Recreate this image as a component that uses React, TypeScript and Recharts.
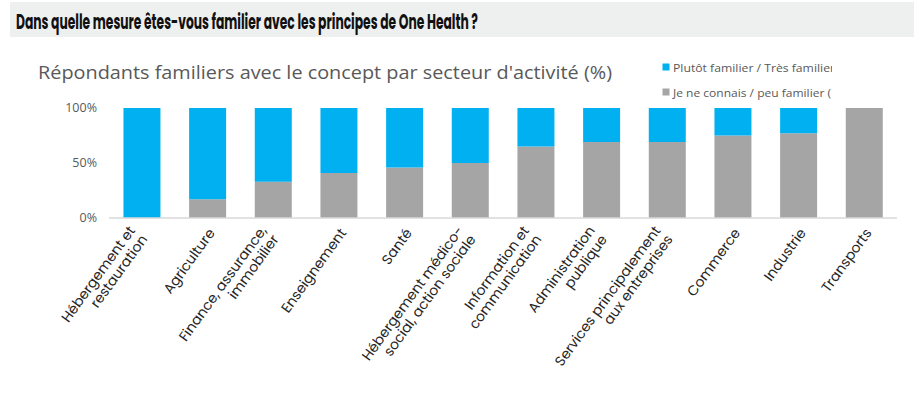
import React from 'react'
import { BarChart, Bar, XAxis, YAxis } from 'recharts'

const categories = [
  'Hébergement et\nrestauration',
  'Agriculture',
  'Finance, assurance,\nimmobilier',
  'Enseignement',
  'Santé',
  'Hébergement médico-\nsocial, action sociale',
  'Information et\ncommunication',
  'Administration\npublique',
  'Services principalement\naux entreprises',
  'Commerce',
  'Industrie',
  'Transports',
]
// % "Je ne connais / peu familier"
const peuFamilier = [0, 17, 33, 41, 46, 50, 65, 69, 69, 75, 77, 100]
// % "Plutôt familier / Très familier"
const familier = [100, 83, 67, 59, 54, 50, 35, 31, 31, 25, 23, 0]
const yTicks = [0, 50, 100]

const title = 'Dans quelle mesure êtes-vous familier avec les principes de One Health ?'
const subtitle = "Répondants familiers avec le concept par secteur d'activité (%)"
const legendLabels = ['Plutôt familier / Très familier', 'Je ne connais / peu familier (']

const BLUE = '#00b0f0'
const GREY = '#a5a5a5'

const data = categories.map((c, i) => ({
  secteur: c,
  peu: peuFamilier[i],
  familier: familier[i],
}))

function SecteurTick(props: any) {
  const { x, y, payload } = props
  const lines: string[] = String(payload.value).split('\n')
  const n = lines.length
  const px = x + (n === 1 ? 4 : -4)
  const py = y + (n === 1 ? 12 : 14)
  const lh = 15
  return (
    <g transform={`translate(${px},${py}) rotate(-54)`}>
      {lines.map((l, i) => (
        <text
          key={i}
          x={0}
          y={(i - (n - 1) / 2) * lh + 5}
          textAnchor="end"
          fontFamily="Poppins, Inter, sans-serif"
          fontSize={14}
          fill="#262626"
        >
          {l}
        </text>
      ))}
    </g>
  )
}

function Overlay() {
  const colors = [BLUE, GREY]
  return (
    <svg width={914} height={417} style={{ position: 'absolute', left: 0, top: 0 }}>
      <defs>
        <clipPath id="legClip">
          <rect x={655} y={55} width={177} height={50} />
        </clipPath>
      </defs>
      <rect x={10} y={2} width={904} height={35} fill="#eeefef" />
      <text x={16} y={28.5} fontFamily="Poppins, Inter, sans-serif" fontWeight={700} fontSize={21.5}
        fill="#111" textLength={462} lengthAdjust="spacingAndGlyphs">
        {title}
      </text>
      <text x={38} y={79} fontFamily="'Open Sans', sans-serif" fontSize={17.5}
        fill="#595959" textLength={574} lengthAdjust="spacingAndGlyphs">
        {subtitle}
      </text>
      <g clipPath="url(#legClip)">
        {legendLabels.map((l, i) => (
          <g key={l} transform={`translate(662,${63 + i * 25})`}>
            <rect x={0.5} y={0.5} width={7} height={7} fill={colors[i]} />
            <text x={11} y={8.5} fontFamily="'Open Sans', sans-serif" fontSize={11.5} fill="#595959"
              textLength={i === 0 ? 162 : 158} lengthAdjust="spacingAndGlyphs">
              {l}
            </text>
          </g>
        ))}
      </g>
    </svg>
  )
}

export default function App() {
  return (
    <div style={{ position: 'absolute', left: 0, top: 0, width: 914, height: 417, background: '#fff' }}>
      <div style={{ position: 'absolute', left: 0, top: 0 }}>
        <BarChart width={914} height={417} data={data}
          margin={{ top: 108, right: 17, left: 0, bottom: 0 }} barCategoryGap="22%">
          <XAxis dataKey="secteur" interval={0} height={199} tickLine={false} tickSize={0} tickMargin={0}
            axisLine={{ stroke: '#d9d9d9', strokeWidth: 1.5 }} tick={<SecteurTick />} />
          <YAxis domain={[0, 100]} ticks={yTicks} width={109} axisLine={false} tickLine={false}
            tickMargin={6} tickFormatter={(v) => `${v}%`}
            tick={{ fontSize: 12.5, fill: '#595959', fontFamily: "'Open Sans', sans-serif" }} />
          <Bar dataKey="peu" stackId="a" fill={GREY} isAnimationActive={false} />
          <Bar dataKey="familier" stackId="a" fill={BLUE} isAnimationActive={false} />
        </BarChart>
      </div>
      <Overlay />
    </div>
  )
}
